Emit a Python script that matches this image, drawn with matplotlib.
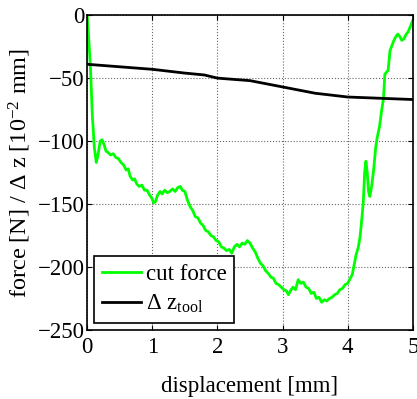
import numpy as np
import matplotlib
matplotlib.use('Agg')
import matplotlib.pyplot as plt

plt.rcParams['font.family'] = 'Liberation Serif'
plt.rcParams['mathtext.fontset'] = 'custom'
plt.rcParams['mathtext.rm'] = 'Liberation Serif'
plt.rcParams['mathtext.it'] = 'Liberation Serif:italic'
plt.rcParams['axes.unicode_minus'] = True

# cut force [N] vs displacement [mm]
force_x = [0.00, 0.02, 0.05, 0.08, 0.11, 0.14, 0.17, 0.20, 0.23, 0.26, 0.29, 0.32,
           0.36, 0.40, 0.44, 0.48, 0.52, 0.56, 0.60, 0.63, 0.66, 0.70, 0.73, 0.76,
           0.80, 0.84, 0.88, 0.92, 0.96, 0.99, 1.02, 1.05, 1.08, 1.12, 1.15, 1.19,
           1.23, 1.27, 1.31, 1.35, 1.39, 1.43, 1.46, 1.50, 1.54, 1.58, 1.62, 1.66,
           1.70, 1.74, 1.78, 1.82, 1.86, 1.90, 1.94, 1.98, 2.02, 2.06, 2.10, 2.14,
           2.18, 2.22, 2.26, 2.30, 2.34, 2.38, 2.42, 2.46, 2.50, 2.54, 2.58, 2.62,
           2.66, 2.70, 2.74, 2.78, 2.82, 2.86, 2.90, 2.94, 2.98, 3.02, 3.06, 3.09,
           3.12, 3.16, 3.20, 3.24, 3.28, 3.32, 3.36, 3.40, 3.44, 3.48, 3.52, 3.56,
           3.60, 3.64, 3.68, 3.72, 3.76, 3.80, 3.84, 3.88, 3.92, 3.96, 4.00, 4.04,
           4.07, 4.10, 4.13, 4.16, 4.19, 4.22, 4.24, 4.26, 4.28, 4.30, 4.32, 4.34,
           4.37, 4.40, 4.43, 4.45, 4.49, 4.52, 4.55, 4.57, 4.60, 4.62, 4.65, 4.68,
           4.71, 4.74, 4.77, 4.80, 4.83, 4.86, 4.90, 4.93, 4.97, 5.00]
force_y = [0, -15, -41, -80, -105, -117, -110, -100, -99, -103, -108, -109,
           -111, -110, -113, -114, -117, -119, -123, -122, -128, -131, -130, -134,
           -136, -135, -139, -139, -143, -145, -149, -148, -143, -140, -142, -139,
           -141, -140, -138, -140, -137, -136, -139, -140, -147, -152, -155, -160,
           -161, -165, -167, -171, -172, -175, -176, -179, -180, -184, -185, -187,
           -186, -189, -184, -182, -184, -181, -182, -179, -181, -185, -188, -193,
           -197, -199, -203, -205, -208, -209, -213, -214, -216, -218, -219, -222,
           -219, -216, -218, -210, -213, -212, -216, -217, -221, -220, -225, -224,
           -228, -226, -227, -225, -224, -222, -221, -218, -217, -214, -213, -209,
           -206, -198, -190, -185, -176, -160, -148, -125, -116, -125, -140, -144,
           -135, -122, -105, -98, -88, -76, -66, -47, -45, -44, -28, -24,
           -20, -17, -15, -17, -20, -19, -15, -13, -8, -4]

# tool displacement [1e-2 mm]
tool_x = [0.0, 0.5, 1.0, 1.5, 1.8, 2.0, 2.5, 3.0, 3.5, 4.0, 4.5, 5.0]
tool_y = [-39, -41, -43, -46, -47.5, -50, -52, -57, -62, -65, -66, -67]

fig = plt.figure(figsize=(4.17, 3.99), dpi=100)
ax = fig.add_axes([0.209, 0.173, 0.781, 0.789])

ax.plot(force_x, force_y, color='#00ff00', lw=2, label='cut force')
ax.plot(tool_x, tool_y, color='k', lw=2, label=r'$\Delta$ z$_{\mathrm{tool}}$')

ax.set_xlim(0, 5)
ax.set_ylim(-250, 0)
ax.set_xticks(range(0, 6))
ax.set_yticks(range(-250, 1, 50))
ax.grid(True, linestyle=':', color='k', lw=0.8, alpha=0.6)
ax.tick_params(direction='in', top=True, right=True, labelsize=16.5)
ax.tick_params(axis='x', pad=5)
ax.tick_params(axis='y', pad=2)
for s in ax.spines.values():
    s.set_linewidth(1.2)

ax.set_xlabel('displacement [mm]', fontsize=16.5, labelpad=13)
ax.set_ylabel(r'force [N] / $\Delta$ z [10$^{-2}$ mm]', fontsize=17.5, labelpad=3)

leg = ax.legend(loc='lower left', fontsize=16.5, frameon=True, fancybox=False,
                edgecolor='k', framealpha=1, borderaxespad=0.3,
                handlelength=1.7, handletextpad=0.2, borderpad=0.35, labelspacing=0.35)
leg.get_frame().set_linewidth(1.2)

fig.savefig('out.png', dpi=100)
